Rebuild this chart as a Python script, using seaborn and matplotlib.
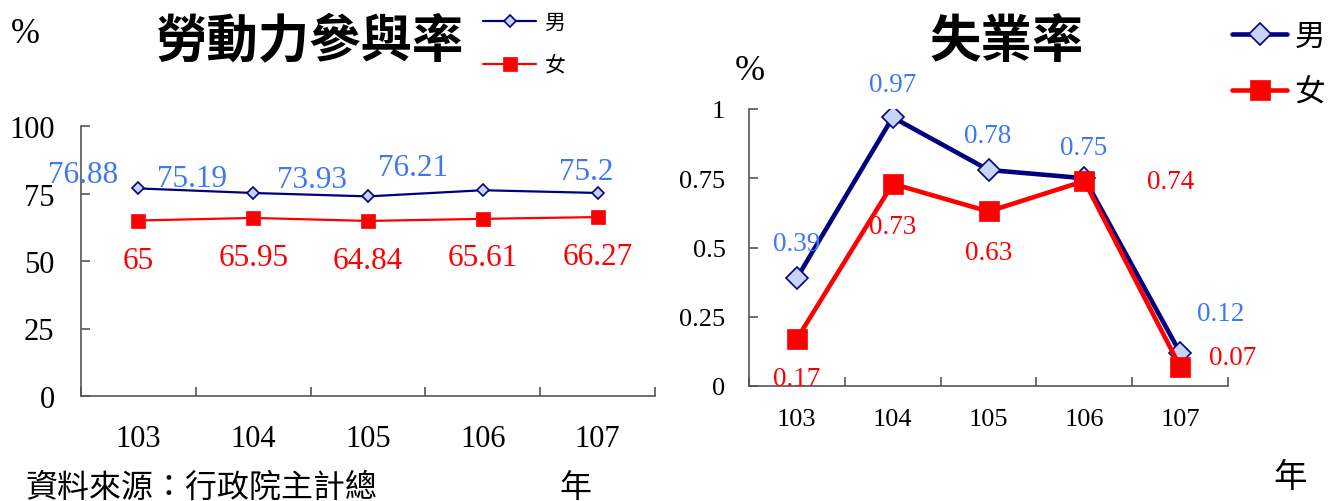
import matplotlib
matplotlib.use('Agg')
import matplotlib.pyplot as plt
import seaborn as sns
import numpy as np

# ---------------- data ----------------
years = [103, 104, 105, 106, 107]
lfpr_male = [76.88, 75.19, 73.93, 76.21, 75.2]
lfpr_female = [65, 65.95, 64.84, 65.61, 66.27]
unemp_male = [0.39, 0.97, 0.78, 0.75, 0.12]
unemp_female = [0.17, 0.73, 0.63, 0.74, 0.07]
lfpr_ticks = [0, 25, 50, 75, 100]
unemp_ticks = [0, 0.25, 0.5, 0.75, 1]
unemp_tick_labels = ['0', '0.25', '0.5', '0.75', '1']
series_names = ['男', '女']
title_left = '勞動力參與率'
title_right = '失業率'
source_text = '資料來源：行政院主計總'

# label offsets (pixels, x right / y down)
lfpr_male_off = [(-55, -17), (-61, -17), (-56, -20), (-70, -26), (-11, -24)]
lfpr_female_off = [(0, 37), (0, 37), (0, 37), (0, 36), (0, 36)]
unemp_male_off = [(0, -37), (0, -36), (-1, -37), (-1, -34), (41, -42)]
unemp_female_off = [(0, 37), (0, 40), (0, 38), (86, -3), (53, -12)]

sns.set_theme(style='white')
plt.rcParams['font.family'] = ['Liberation Serif', 'Noto Sans CJK TC']
plt.rcParams['text.color'] = 'black'
plt.rcParams['xtick.color'] = 'black'
plt.rcParams['ytick.color'] = 'black'
plt.rcParams['xtick.labelcolor'] = 'black'
plt.rcParams['ytick.labelcolor'] = 'black'
CJK = ['Noto Sans CJK TC', 'DejaVu Sans']

NAVY = '#000080'
RED = '#FF0000'
LBLUE = '#3D78F5'
MFACE = '#C8D4F4'
SPINE = '#555555'

W, H = 1332, 502
fig = plt.figure(figsize=(W / 100, H / 100), dpi=100)
fig.patch.set_facecolor('white')

def fx(px):
    return px / W

def fy(py):
    return 1 - py / H

ax1 = fig.add_axes([fx(81), fy(397), fx(655 - 81), (397 - 127) / H])
ax2 = fig.add_axes([fx(749), fy(387), fx(1228 - 749), (387 - 110) / H])

def style_axes(ax, ylim, yticks, yticklabels, ysize, xsize, ypad, xpad):
    ax.set_facecolor('white')
    ax.set_xlim(years[0] - 0.5, years[-1] + 0.5)
    ax.set_ylim(*ylim)
    for s in ['top', 'right']:
        ax.spines[s].set_visible(False)
    for s in ['left', 'bottom']:
        ax.spines[s].set_color(SPINE)
        ax.spines[s].set_linewidth(1.2)
    ax.set_yticks(yticks)
    ax.set_yticklabels(yticklabels)
    ax.set_xticks(years)
    ax.set_xticklabels([str(y) for y in years])
    ax.set_xticks(np.arange(years[0] - 0.5, years[-1] + 1, 1.0), minor=True)
    ax.tick_params(axis='y', which='major', direction='in', length=6.5, width=1.2,
                   color=SPINE, labelcolor='black', labelsize=ysize, pad=ypad, left=True)
    ax.tick_params(axis='x', which='major', length=0, labelsize=xsize, pad=xpad,
                   labelcolor='black', bottom=True)
    ax.tick_params(axis='x', which='minor', direction='in', length=6.5, width=1.2,
                   color=SPINE, bottom=True)
    ax.set_xlabel('')
    ax.set_ylabel('')
    ax.grid(False)

def add_labels(ax, xs, vals, offs, color, size):
    for x, v, (dx, dy) in zip(xs, vals, offs):
        ax.annotate(f'{v:g}', xy=(x, v), xytext=(dx * 0.72, -(dy + 3) * 0.72),
                    textcoords='offset points', ha='center', va='center',
                    fontsize=size, color=color, family='Liberation Serif')

# ---- left: labour force participation ----
sns.lineplot(x=years, y=lfpr_male, ax=ax1, color=NAVY, lw=1.6, marker='D',
             markersize=6.2, markerfacecolor=MFACE, markeredgecolor=NAVY,
             markeredgewidth=1.2, label=series_names[0])
sns.lineplot(x=years, y=lfpr_female, ax=ax1, color=RED, lw=1.6, marker='s',
             markersize=10.5, markerfacecolor=RED, markeredgecolor=RED,
             markeredgewidth=0.5, label=series_names[1])
style_axes(ax1, (0, 100), lfpr_ticks, [str(t) for t in lfpr_ticks], 22, 22, 19, 20)
add_labels(ax1, years, lfpr_male, lfpr_male_off, LBLUE, 22.5)
add_labels(ax1, years, lfpr_female, lfpr_female_off, RED, 22.5)
ax1.legend(loc='upper left', bbox_to_anchor=(fx(483), fy(12)),
           bbox_transform=fig.transFigure, frameon=False,
           prop={'family': CJK, 'size': 15}, handlelength=2.55,
           handletextpad=0.4, labelspacing=1.0, borderpad=0, borderaxespad=0)

# ---- right: unemployment ----
sns.lineplot(x=years, y=unemp_male, ax=ax2, color=NAVY, lw=3.3, marker='D',
             markersize=11, markerfacecolor=MFACE, markeredgecolor=NAVY,
             markeredgewidth=1.2, label=series_names[0])
sns.lineplot(x=years, y=unemp_female, ax=ax2, color=RED, lw=3.3, marker='s',
             markersize=14.5, markerfacecolor=RED, markeredgecolor=RED,
             markeredgewidth=0.5, label=series_names[1])
style_axes(ax2, (0, 1), unemp_ticks, unemp_tick_labels, 19, 19, 17, 15.5)
add_labels(ax2, years, unemp_male, unemp_male_off, LBLUE, 19.5)
add_labels(ax2, years, unemp_female, unemp_female_off, RED, 19.5)
ax2.legend(loc='upper left', bbox_to_anchor=(fx(1232), fy(22)),
           bbox_transform=fig.transFigure, frameon=False,
           prop={'family': CJK, 'size': 22}, handlelength=1.8,
           handletextpad=0.25, labelspacing=0.8, borderpad=0, borderaxespad=0)

# ---- figure texts ----
fig.text(fx(309), fy(42), title_left, ha='center', va='center', fontsize=37,
         fontweight='bold', family=CJK, color='black')
fig.text(fx(1007), fy(42), title_right, ha='center', va='center', fontsize=37,
         fontweight='bold', family=CJK, color='black')
fig.text(fx(25), fy(35), '%', ha='center', va='center', fontsize=25,
         family='Liberation Serif', color='black')
fig.text(fx(750), fy(72), '%', ha='center', va='center', fontsize=26,
         family='Liberation Serif', color='black')
fig.text(fx(25), fy(488), source_text, ha='left', va='center', fontsize=23,
         family=CJK, color='black')
fig.text(fx(575), fy(488), '年', ha='center', va='center', fontsize=23,
         family=CJK, color='black')
fig.text(fx(1290), fy(478), '年', ha='center', va='center', fontsize=24,
         family=CJK, color='black')

fig.savefig('out.png', dpi=100, facecolor='white')
